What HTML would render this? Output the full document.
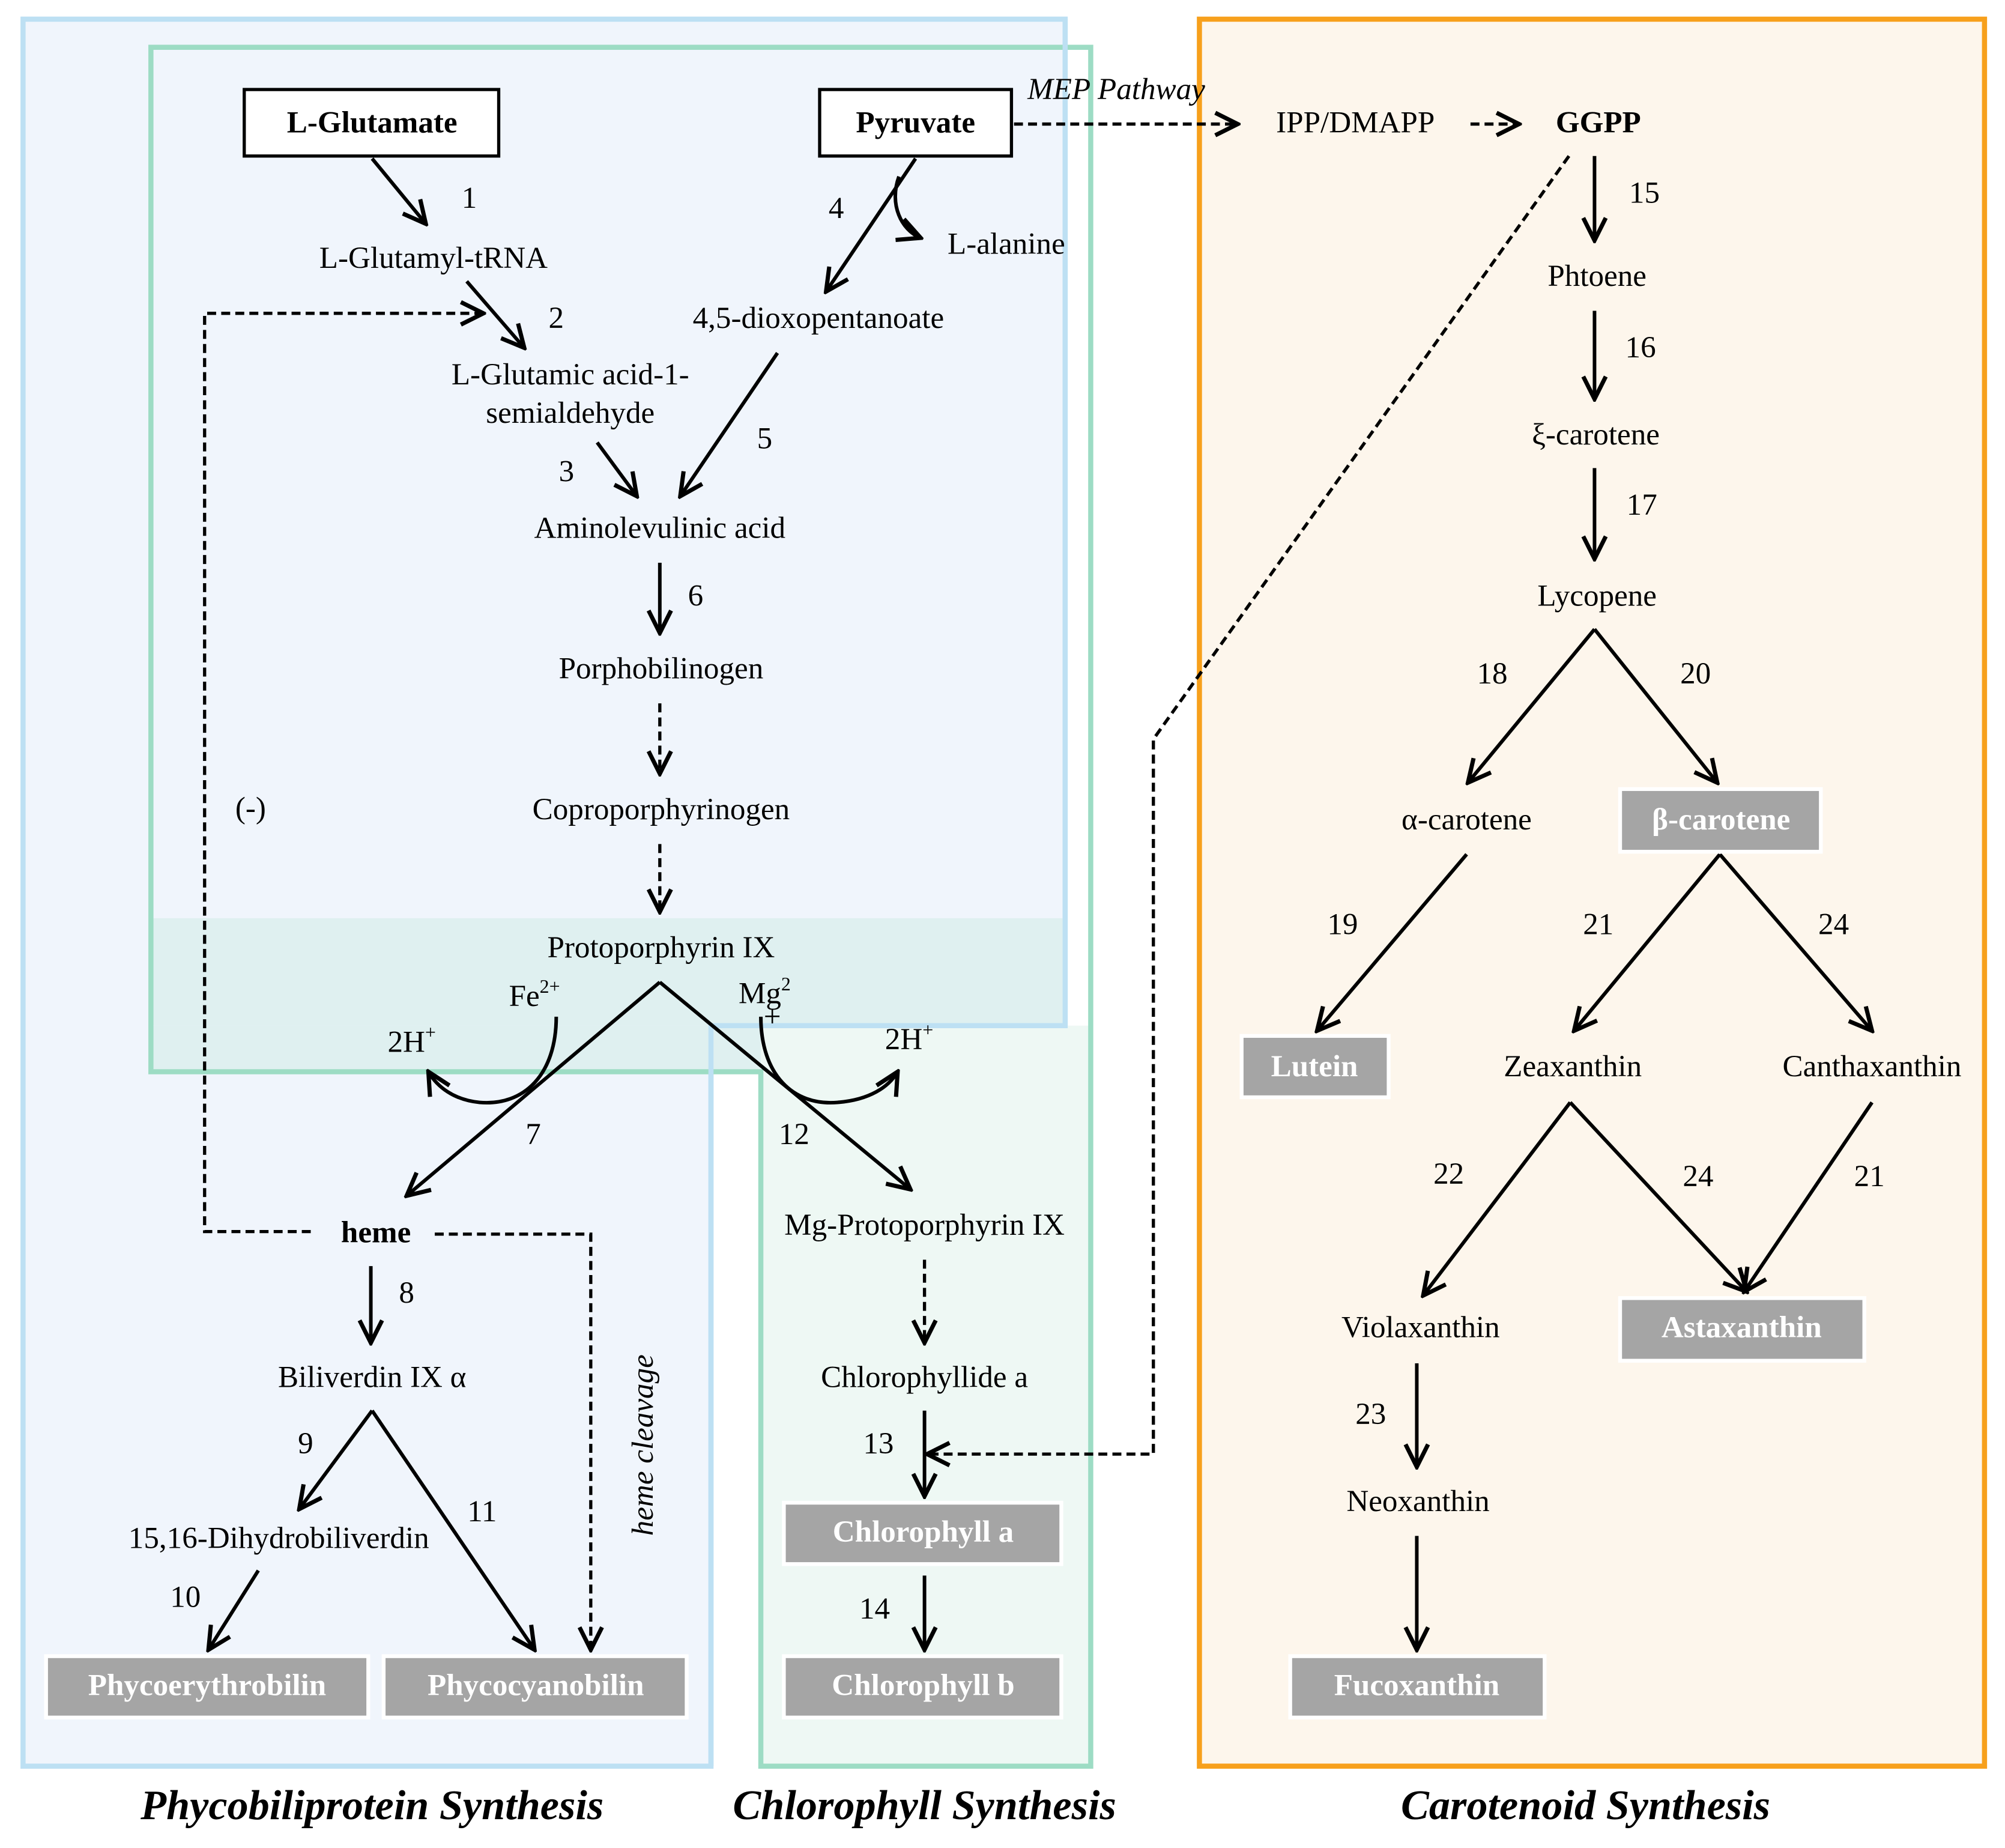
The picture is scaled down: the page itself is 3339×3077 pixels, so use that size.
<!DOCTYPE html>
<html><head><meta charset="utf-8"><style>
html,body{margin:0;padding:0;background:#fff}
svg{display:block}
text{font-family:"Liberation Serif",serif;font-size:24px;fill:#000;text-anchor:middle;dominant-baseline:middle}
.b{font-weight:bold}
.g{font-weight:bold;fill:#fff}
.t{font-weight:bold;font-style:italic;font-size:33px}
.i{font-style:italic}
</style></head><body>
<svg width="3339" height="3077" viewBox="0 0 1568 1445" xmlns="http://www.w3.org/2000/svg">
<defs>
<marker id="a" viewBox="0 0 20 20" refX="18" refY="10" markerWidth="22" markerHeight="22" markerUnits="userSpaceOnUse" orient="auto">
<path d="M2,2 L18,10 L2,18" fill="none" stroke="#000" stroke-width="3"/>
</marker>
</defs>
<path d="M18,15 H833 V802 H556 V1381 H18 Z" fill="#f0f5fc" stroke="#bde0f3" stroke-width="4"/>
<path d="M595,802 H853 V1381 H595 Z" fill="#eef8f4"/>
<rect x="118" y="718" width="715" height="84" fill="#dff0f0"/>
<rect x="118" y="802" width="477" height="36" fill="#dff0f0"/>
<path d="M118,37 H853 V1381 H595 V838 H118 Z" fill="none" stroke="#9ddcc4" stroke-width="4"/>
<path d="M833,15 V802 H556 V1381" fill="none" stroke="#bde0f3" stroke-width="4"/>
<rect x="938" y="15" width="614" height="1366" fill="#fdf6ec" stroke="#f7a01c" stroke-width="4"/>

<g stroke="#000" stroke-width="2.5" fill="none">
<rect x="191" y="70" width="199" height="52" fill="#fff"/>
<rect x="641" y="70" width="150" height="52" fill="#fff"/>
</g>
<g stroke="#000" stroke-width="2.8" fill="none" marker-end="url(#a)">
<line x1="291" y1="124" x2="333" y2="175"/>
<line x1="365" y1="220" x2="410" y2="272"/>
<line x1="716" y1="124" x2="646" y2="228"/>
<path d="M703,138 C695,160 705,180 720,186"/>
<line x1="467" y1="346" x2="498" y2="388"/>
<line x1="608" y1="276" x2="532" y2="388"/>
<line x1="516" y1="440" x2="516" y2="495"/>
<line x1="516" y1="768" x2="318" y2="935"/>
<line x1="516" y1="768" x2="712" y2="930"/>
<path d="M435,795 C435,840 410,865 375,862 C355,860 342,850 335,838"/>
<path d="M595,795 C595,840 620,865 655,862 C680,860 695,850 702,838"/>
<line x1="290" y1="990" x2="290" y2="1050"/>
<line x1="291" y1="1103" x2="234" y2="1180"/>
<line x1="291" y1="1103" x2="418" y2="1290"/>
<line x1="202" y1="1228" x2="163" y2="1290"/>
<line x1="723" y1="1103" x2="723" y2="1170"/>
<line x1="723" y1="1232" x2="723" y2="1290"/>
<line x1="1247" y1="122" x2="1247" y2="188"/>
<line x1="1247" y1="243" x2="1247" y2="312"/>
<line x1="1247" y1="366" x2="1247" y2="437"/>
<line x1="1247" y1="492" x2="1148" y2="612"/>
<line x1="1247" y1="492" x2="1343" y2="612"/>
<line x1="1147" y1="668" x2="1030" y2="806"/>
<line x1="1345" y1="668" x2="1231" y2="806"/>
<line x1="1345" y1="668" x2="1464" y2="806"/>
<line x1="1228" y1="862" x2="1113" y2="1013"/>
<line x1="1228" y1="862" x2="1366" y2="1010"/>
<line x1="1464" y1="862" x2="1364" y2="1010"/>
<line x1="1108" y1="1066" x2="1108" y2="1147"/>
<line x1="1108" y1="1201" x2="1108" y2="1290"/>
</g>
<g stroke="#000" stroke-width="2.5" fill="none" stroke-dasharray="7,4" marker-end="url(#a)">
<line x1="793" y1="97" x2="968" y2="97"/>
<line x1="1150" y1="97" x2="1188" y2="97"/>
<path d="M243,963 H160 V245 H378"/>
<line x1="516" y1="550" x2="516" y2="605"/>
<line x1="516" y1="660" x2="516" y2="713"/>
<path d="M340,965 H462 V1290"/>
<line x1="723" y1="985" x2="723" y2="1050"/>
<path d="M1227,122 L902,578 V1137 H725"/>
</g>
<g fill="#a5a5a5" stroke="#fff" stroke-width="3">
<rect x="36" y="1295" width="252" height="48"/>
<rect x="300" y="1295" width="237" height="48"/>
<rect x="613" y="1175" width="217" height="48"/>
<rect x="613" y="1295" width="217" height="48"/>
<rect x="1267" y="617" width="157" height="49"/>
<rect x="971" y="810" width="115" height="48"/>
<rect x="1267" y="1015" width="191" height="49"/>
<rect x="1009" y="1295" width="199" height="48"/>
</g>
<text x="291" y="98" class="b">L-Glutamate</text>
<text x="716" y="98" class="b">Pyruvate</text>
<text x="873" y="72" class="i">MEP Pathway</text>
<text x="1060" y="98">IPP/DMAPP</text>
<text x="1250" y="98" class="b">GGPP</text>
<text x="367" y="157">1</text>
<text x="339" y="204">L-Glutamyl-tRNA</text>
<text x="435" y="251">2</text>
<text x="196" y="634">(-)</text>
<text x="654" y="165">4</text>
<text x="787" y="193">L-alanine</text>
<text x="640" y="251">4,5-dioxopentanoate</text>
<text x="446" y="295">L-Glutamic acid-1-</text>
<text x="446" y="325">semialdehyde</text>
<text x="443" y="371">3</text>
<text x="598" y="345">5</text>
<text x="516" y="415">Aminolevulinic acid</text>
<text x="544" y="468">6</text>
<text x="517" y="525">Porphobilinogen</text>
<text x="517" y="635">Coproporphyrinogen</text>
<text x="517" y="743">Protoporphyrin IX</text>
<text x="418" y="781">Fe<tspan font-size="15" dy="-8">2+</tspan></text>
<text x="598" y="779">Mg<tspan font-size="15" dy="-8">2</tspan></text>
<text x="604" y="797" font-size="15">+</text>
<text x="322" y="817">2H<tspan font-size="15" dy="-8">+</tspan></text>
<text x="711" y="815">2H<tspan font-size="15" dy="-8">+</tspan></text>
<text x="417" y="889">7</text>
<text x="621" y="889">12</text>
<text x="294" y="966" class="b">heme</text>
<text x="723" y="960">Mg-Protoporphyrin IX</text>
<text x="505" y="1130" class="i" transform="rotate(-90 505 1130)">heme cleavage</text>
<text x="318" y="1013">8</text>
<text x="291" y="1079">Biliverdin IX α</text>
<text x="239" y="1131">9</text>
<text x="377" y="1184">11</text>
<text x="218" y="1205">15,16-Dihydrobiliverdin</text>
<text x="145" y="1251">10</text>
<text x="162" y="1320" class="g">Phycoerythrobilin</text>
<text x="419" y="1320" class="g">Phycocyanobilin</text>
<text x="723" y="1079">Chlorophyllide a</text>
<text x="687" y="1131">13</text>
<text x="722" y="1200" class="g">Chlorophyll a</text>
<text x="684" y="1260">14</text>
<text x="722" y="1320" class="g">Chlorophyll b</text>
<text x="1286" y="153">15</text>
<text x="1249" y="218">Phtoene</text>
<text x="1283" y="274">16</text>
<text x="1248" y="342">ξ-carotene</text>
<text x="1284" y="397">17</text>
<text x="1249" y="468">Lycopene</text>
<text x="1167" y="529">18</text>
<text x="1326" y="529">20</text>
<text x="1147" y="643">α-carotene</text>
<text x="1346" y="643" class="g">β-carotene</text>
<text x="1050" y="725">19</text>
<text x="1250" y="725">21</text>
<text x="1434" y="725">24</text>
<text x="1028" y="836" class="g">Lutein</text>
<text x="1230" y="836">Zeaxanthin</text>
<text x="1464" y="836">Canthaxanthin</text>
<text x="1133" y="920">22</text>
<text x="1328" y="922">24</text>
<text x="1462" y="922">21</text>
<text x="1111" y="1040">Violaxanthin</text>
<text x="1362" y="1040" class="g">Astaxanthin</text>
<text x="1072" y="1108">23</text>
<text x="1109" y="1176">Neoxanthin</text>
<text x="1108" y="1320" class="g">Fucoxanthin</text>
<text x="291" y="1415" class="t">Phycobiliprotein Synthesis</text>
<text x="723" y="1415" class="t">Chlorophyll Synthesis</text>
<text x="1240" y="1415" class="t">Carotenoid Synthesis</text>
</svg>
</body></html>
